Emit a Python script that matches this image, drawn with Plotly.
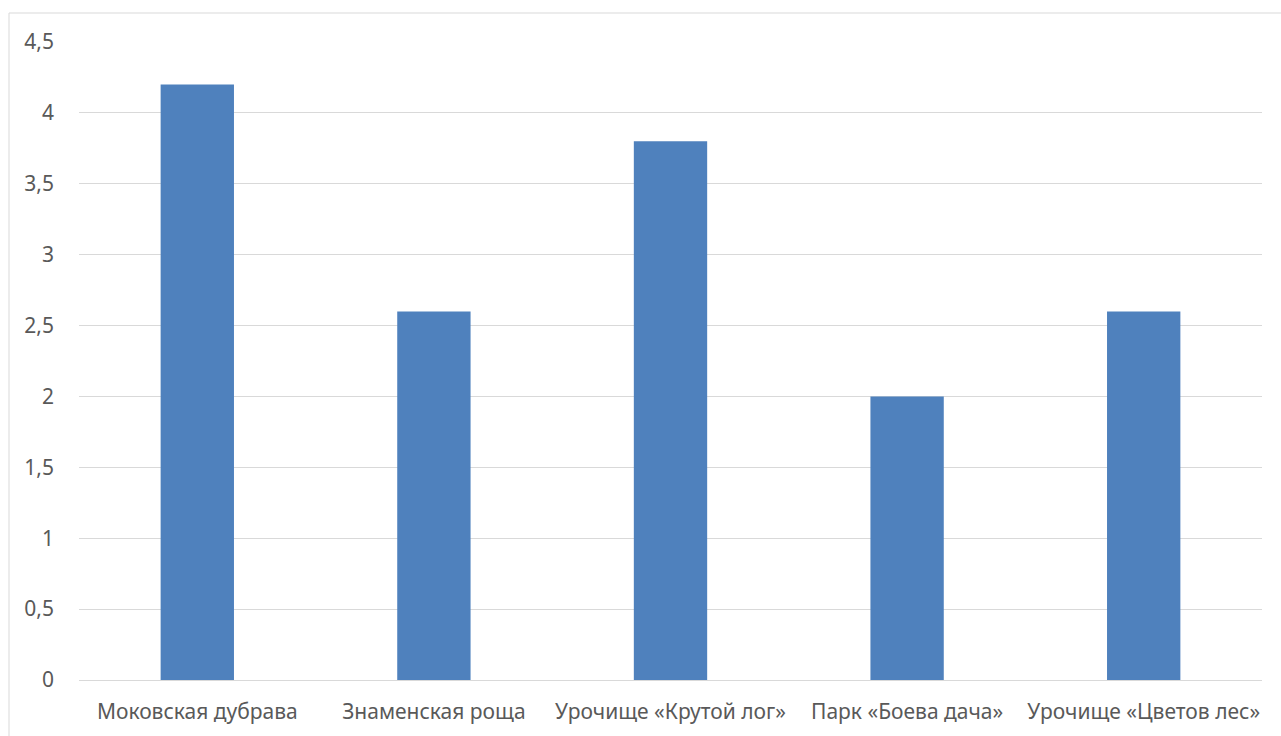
import plotly.graph_objects as go

categories = ["Моковская дубрава", "Знаменская роща", "Урочище «Крутой лог»",
              "Парк «Боева дача»", "Урочище «Цветов лес»"]
values = [4.2, 2.6, 3.8, 2.0, 2.6]
y_ticks = [0, 0.5, 1, 1.5, 2, 2.5, 3, 3.5, 4, 4.5]

W, H = 1281, 736
ML, MR, MT, MB = 79, 19, 42, 56
PW, PH = W - ML - MR, H - MT - MB

def px_x(p):
    return (p - ML) / PW

def px_y(p):
    return (H - MB - p) / PH

fig = go.Figure(go.Bar(
    x=categories, y=values,
    marker=dict(color="#4F81BD", line=dict(width=0)),
    width=0.31,
))

font = dict(family="Noto Sans", size=21, color="#595959")

fig.update_layout(
    width=W, height=H,
    margin=dict(l=ML, r=MR, t=MT, b=MB),
    paper_bgcolor="white", plot_bgcolor="white",
    separators=", ",
    showlegend=False,
    font=font,
    xaxis=dict(showgrid=False, showline=False, zeroline=False, ticks="",
               tickfont=font, ticklabelstandoff=17, tickangle=0),
    yaxis=dict(range=[0, 4.5], tickvals=y_ticks, showgrid=True,
               gridcolor="#D9D9D9", gridwidth=1, zeroline=True,
               zerolinecolor="#D9D9D9", zerolinewidth=1, showline=False,
               ticks="", tickfont=font, ticklabelstandoff=24),
    shapes=[
        dict(type="line", xref="paper", yref="paper",
             x0=px_x(9), x1=px_x(W + 5), y0=px_y(13), y1=px_y(13),
             line=dict(color="#D9D9D9", width=1)),
        dict(type="line", xref="paper", yref="paper",
             x0=px_x(9), x1=px_x(9), y0=px_y(13), y1=px_y(H + 5),
             line=dict(color="#D9D9D9", width=1)),
    ],
)

fig.write_html("out.html")
